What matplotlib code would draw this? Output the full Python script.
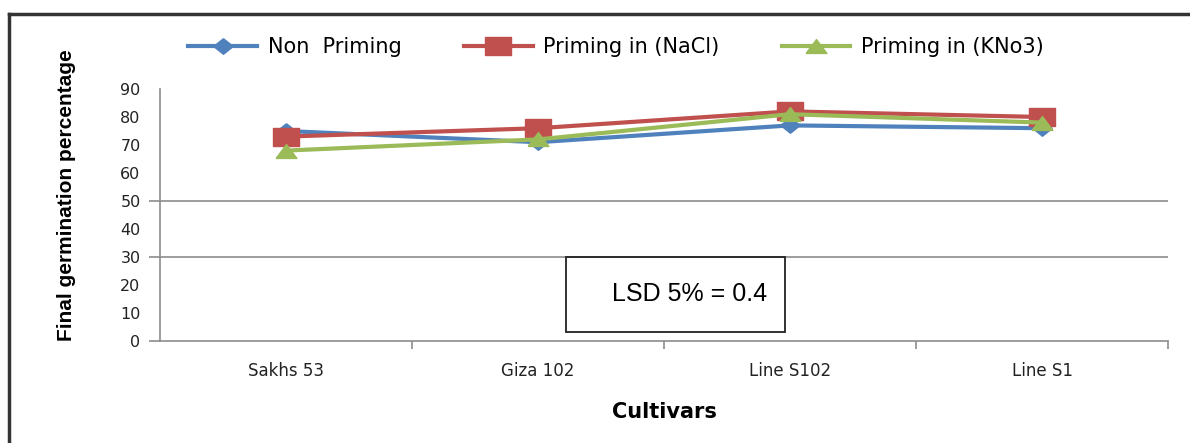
import matplotlib
matplotlib.use('Agg')
import matplotlib.pyplot as plt
from matplotlib.path import Path
from matplotlib.patches import Rectangle
from matplotlib.lines import Line2D

cultivars = ['Sakhs 53', 'Giza 102', 'Line S102', 'Line S1']
non_priming = [75, 71, 77, 76]
priming_nacl = [73, 76, 82, 80]
priming_kno3 = [68, 72, 81, 78]
series_names = ['Non  Priming', 'Priming in (NaCl)', 'Priming in (KNo3)']
yticks = list(range(0, 100, 10))

# markers look stretched sideways in the picture
diamond = Path([(0, 1), (1.25, 0), (0, -1), (-1.25, 0), (0, 1)])
square = Path([(-1.5, -1), (1.5, -1), (1.5, 1), (-1.5, 1), (-1.5, -1)])
triangle = Path([(-1.5, -1), (1.5, -1), (0, 1), (-1.5, -1)])

narrow = ['Liberation Sans', 'DejaVu Sans']

fig = plt.figure(figsize=(11.9, 4.43), dpi=100)
ax = fig.add_axes([160/1190, 1-341/443, 1008/1190, 252/443])

x = range(len(cultivars))
ax.plot(x, non_priming, color='#4F81BD', lw=3, marker=diamond, ms=14, label=series_names[0])
ax.plot(x, priming_nacl, color='#C0504D', lw=3, marker=square, ms=19, label=series_names[1])
ax.plot(x, priming_kno3, color='#9BBB59', lw=3, marker=triangle, ms=15, label=series_names[2])

ax.set_xlim(-0.5, 3.5)
ax.set_ylim(0, 90)
for v in [30, 50]:
    ax.axhline(v, color='#8c8c8c', lw=1.2, zorder=0)

for s in ['top', 'right']:
    ax.spines[s].set_visible(False)
for s in ['left', 'bottom']:
    ax.spines[s].set_color('#8c8c8c')
    ax.spines[s].set_linewidth(1.2)

ax.set_yticks(yticks)
ax.tick_params(axis='y', length=0, pad=14, labelsize=11.5, labelcolor='#222222')
sec = ax.secondary_yaxis('left')
sec.set_yticks([0, 30, 50])
sec.tick_params(axis='y', length=8, color='#8c8c8c', width=1.2, labelleft=False)
sec.spines['left'].set_visible(False)

ax.set_xticks(list(x))
ax.set_xticklabels(cultivars)
ax.set_xticks([0.5, 1.5, 2.5, 3.5], minor=True)
ax.tick_params(axis='x', which='major', length=0, pad=15, labelsize=12, labelcolor='#222222')
ax.tick_params(axis='x', which='minor', length=6, color='#8c8c8c', width=1.2)

ax.set_xlabel('Cultivars', fontsize=15, fontweight='bold', labelpad=16)
fig.text(67/1190, 1-195/443, 'Final germination percentage', rotation=90, ha='center', va='center',
         fontsize=15, fontweight='bold', family=narrow)

# LSD box
ax.add_patch(Rectangle((1.11, 3.2), 0.87, 26.8, fill=False, ec='#222222', lw=1.3, zorder=5))
ax.text(1.60, 16.8, 'LSD 5% = 0.4', ha='center', va='center', fontsize=18, family=narrow, zorder=6)

leg = fig.legend(loc='center', bbox_to_anchor=(616/1190, 1-47/443), ncol=3, frameon=False,
                 fontsize=15, handlelength=3.3, columnspacing=3.0, handletextpad=0.5)

# outer frame
fig.add_artist(Line2D([9/1190, 1], [1-14/443, 1-14/443], color='#333333', lw=2.5))
fig.add_artist(Line2D([9/1190, 9/1190], [0, 1-14/443], color='#333333', lw=2.5))

fig.savefig('out.png', dpi=100)
